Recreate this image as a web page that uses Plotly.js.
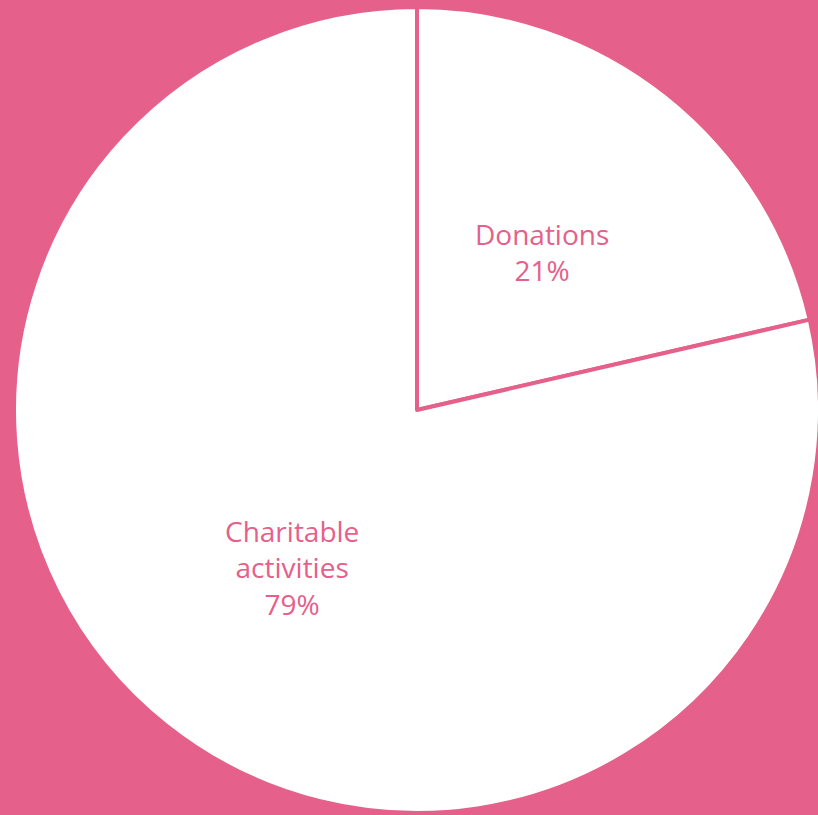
<!DOCTYPE html>
<html>
<head>
<meta charset="utf-8">
<script src="https://cdn.plot.ly/plotly-3.0.1.min.js"></script>
<style>
html, body { margin: 0; padding: 0; overflow: hidden; background: #E5608A; }
#chart { width: 834px; height: 815px; }
</style>
</head>
<body>
<div id="chart"></div>
<script>
const categories = ['Donations', 'Charitable<br>activities'];
const shares = [21.4, 78.6];
const shareLabels = ['21%', '79%'];

const pink = '#E5608A';

const trace = {
  type: 'pie',
  labels: categories,
  values: shares,
  sort: false,
  direction: 'clockwise',
  rotation: 0,
  textinfo: 'none',
  marker: { colors: ['#ffffff', '#ffffff'], line: { color: pink, width: 4 } },
  hoverinfo: 'none',
  showlegend: false
};

// label positions: halfway along each slice's bisector (derived from the data)
const total = shares.reduce((a, b) => a + b, 0);
let cum = 0;
const annotations = shares.map((v, i) => {
  const mid = (cum + v / 2) / total * 2 * Math.PI;
  cum += v;
  const f = 0.5;
  return {
    xref: 'paper', yref: 'paper',
    x: 0.5 + 0.5 * f * Math.sin(mid),
    y: 0.5 + 0.5 * f * Math.cos(mid),
    xanchor: 'center', yanchor: 'middle',
    showarrow: false,
    align: 'center',
    text: categories[i] + '<br>' + shareLabels[i],
    font: { family: 'Open Sans, sans-serif', size: 28, color: pink }
  };
});

const layout = {
  width: 834,
  height: 815,
  margin: { l: 14, r: 14, t: 7, b: 2 },
  paper_bgcolor: pink,
  plot_bgcolor: pink,
  showlegend: false,
  annotations: annotations
};

Plotly.newPlot('chart', [trace], layout, { displayModeBar: false, staticPlot: true });
</script>
</body>
</html>
